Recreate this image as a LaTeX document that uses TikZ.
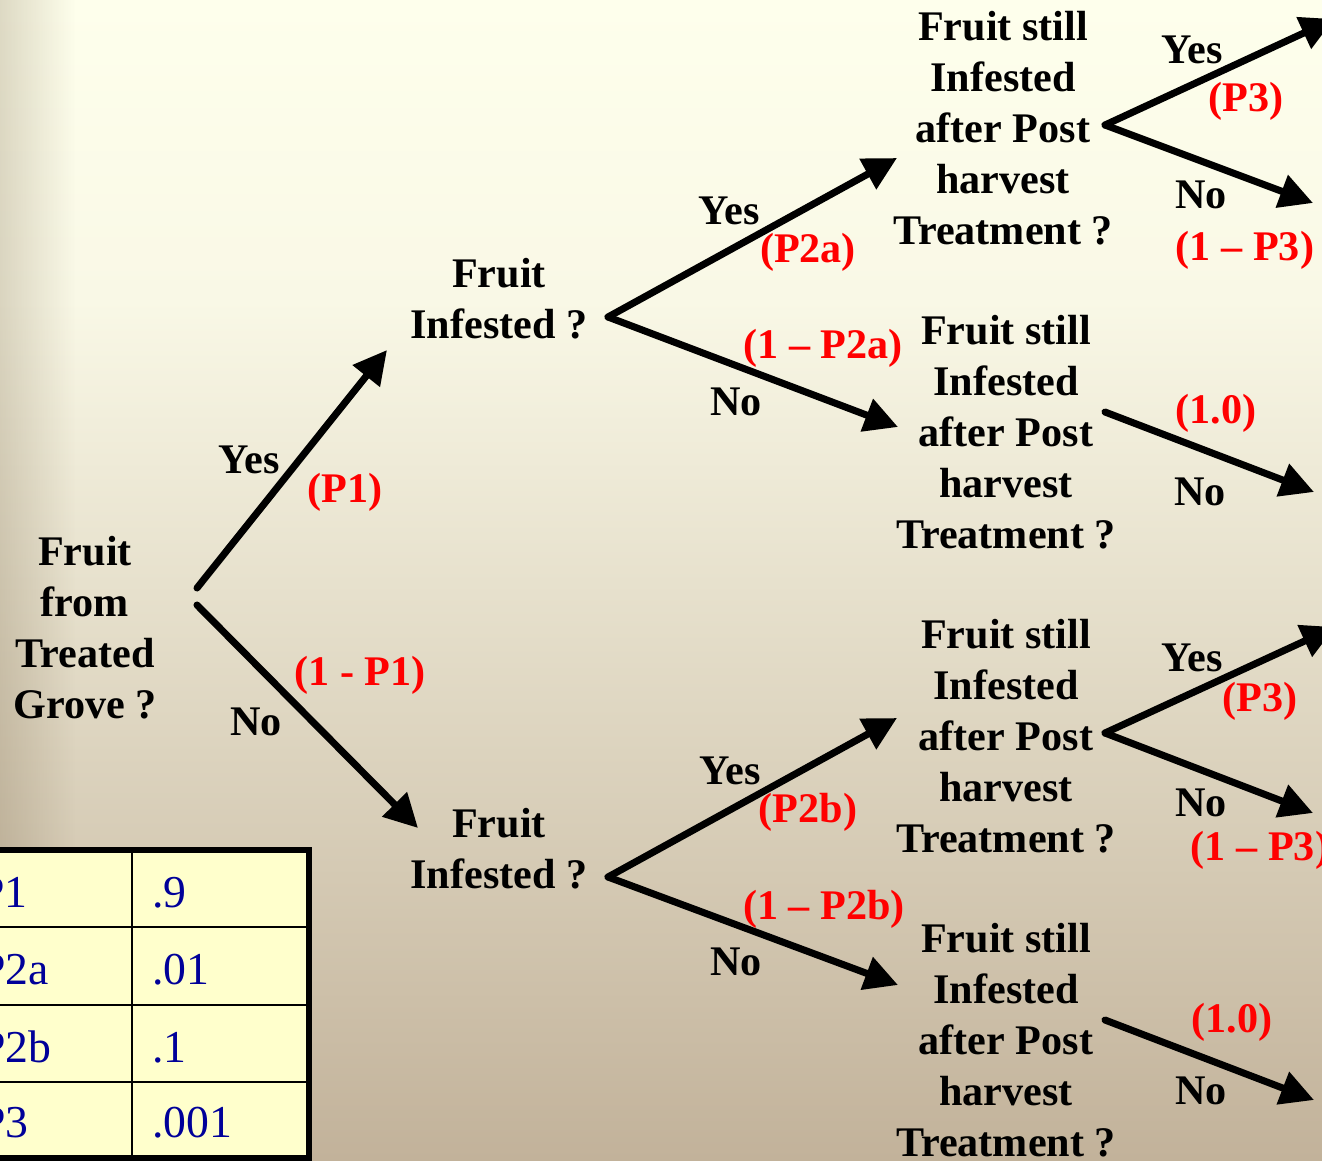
\documentclass[tikz,border=0pt]{standalone}
\usepackage{fontspec}
\setmainfont{Liberation Serif}
\usepackage{tikz}
\usetikzlibrary{arrows.meta,fadings}

\definecolor{bgtop}{HTML}{FEFFEC}
\definecolor{bgmid}{HTML}{F9F8E6}
\definecolor{bgbot}{HTML}{C2B29A}
\definecolor{edgeshade}{HTML}{786446}
\definecolor{cellfill}{HTML}{FFFFCC}
\definecolor{cellblue}{HTML}{000099}
\tikzfading[name=fade right, left color=transparent!0, right color=transparent!100]

\begin{document}
\begin{tikzpicture}[x=0.02cm,y=-0.02cm]
	\tikzstyle{question}=[align=center,inner sep=0pt,font=\fontsize{24}{29}\selectfont\bfseries]
	\tikzstyle{answer}=[inner sep=0pt,font=\fontsize{24}{29}\selectfont\bfseries]
	\tikzstyle{prob}=[answer,text=red]
	\tikzstyle{branch}=[line width=4pt,line cap=round,-{Triangle[length=19pt,width=19pt]}]
	\tikzstyle{cell}=[anchor=base west,inner sep=0pt,text=cellblue,font=\fontsize{26}{30}\selectfont]
	\useasboundingbox (0,0) rectangle (1322,1160);
	\clip (0,0) rectangle (1322,1160);
	% background
	\shade[top color=bgtop,bottom color=bgmid] (0,0) rectangle (1322,301);
	\shade[top color=bgmid,bottom color=bgbot] (0,300) rectangle (1322,1160);
	\fill[edgeshade,opacity=0.24,path fading=fade right] (0,0) rectangle (75,1160);
	% decision nodes
	\node[question] (1) at (85,628) {Fruit\\from\\Treated\\Grove ?};
	\node[question] (2) at (499,299) {Fruit\\Infested ?};
	\node[question] (3) at (499,849) {Fruit\\Infested ?};
	\node[question] (4) at (1003,128) {Fruit still\\Infested\\after Post\\harvest\\Treatment ?};
	\node[question] (5) at (1006,432) {Fruit still\\Infested\\after Post\\harvest\\Treatment ?};
	\node[question] (6) at (1006,736) {Fruit still\\Infested\\after Post\\harvest\\Treatment ?};
	\node[question] (7) at (1006,1040) {Fruit still\\Infested\\after Post\\harvest\\Treatment ?};
	% branch points and arrow ends
	\coordinate (1y) at (197,588);
	\coordinate (1n) at (197,605);
	\coordinate (2v) at (608,317);
	\coordinate (3v) at (608,877);
	\coordinate (4v) at (1105,125);
	\coordinate (5v) at (1105,412);
	\coordinate (6v) at (1105,733);
	\coordinate (7v) at (1105,1020);
	\coordinate (e1) at (387,350);
	\coordinate (e2) at (418,828);
	\coordinate (e3) at (897,158);
	\coordinate (e4) at (898,427);
	\coordinate (e5) at (897,718);
	\coordinate (e6) at (898,985);
	\coordinate (e7) at (1334,19);
	\coordinate (e8) at (1313,203);
	\coordinate (e9) at (1314,492);
	\coordinate (e10) at (1335,627);
	\coordinate (e11) at (1313,813);
	\coordinate (e12) at (1314,1100);
	\draw[branch] (1y) -- (e1);
	\draw[branch] (1n) -- (e2);
	\draw[branch] (2v) -- (e3);
	\draw[branch] (2v) -- (e4);
	\draw[branch] (3v) -- (e5);
	\draw[branch] (3v) -- (e6);
	\draw[branch] (4v) -- (e7);
	\draw[branch] (4v) -- (e8);
	\draw[branch] (5v) -- (e9);
	\draw[branch] (6v) -- (e10);
	\draw[branch] (6v) -- (e11);
	\draw[branch] (7v) -- (e12);
	% branch labels
	\node[answer] (y1) at (249,460) {Yes};
	\node[prob] (p1) at (345,492) {(P1)};
	\node[prob] (q1) at (360,675) {(1 - P1)};
	\node[answer] (n1) at (256,722) {No};
	\node[answer] (y2) at (729,211) {Yes};
	\node[prob] (p2) at (808,252) {(P2a)};
	\node[prob] (q2) at (823,348) {(1 -- P2a)};
	\node[answer] (n2) at (736,402) {No};
	\node[answer] (y3) at (730,771) {Yes};
	\node[prob] (p3) at (808,812) {(P2b)};
	\node[prob] (q3) at (824,909) {(1 -- P2b)};
	\node[answer] (n3) at (736,962) {No};
	\node[answer] (y4) at (1192,50) {Yes};
	\node[prob] (p4) at (1246,101) {(P3)};
	\node[answer] (n4) at (1201,195) {No};
	\node[prob] (q4) at (1245,250) {(1 -- P3)};
	\node[prob] (p5) at (1216,413) {(1.0)};
	\node[answer] (n5) at (1200,492) {No};
	\node[answer] (y6) at (1192,658) {Yes};
	\node[prob] (p6) at (1260,701) {(P3)};
	\node[answer] (n6) at (1201,803) {No};
	\node[prob] (q6) at (1260,850) {(1 -- P3)};
	\node[prob] (p7) at (1232,1022) {(1.0)};
	\node[answer] (n7) at (1201,1091) {No};
	% table of values
	\fill[cellfill] (-45,850) rectangle (309,1158);
	\draw[line width=1.1pt] (132,850) -- (132,1158);
	\draw[line width=1.1pt] (-45,927) -- (309,927);
	\draw[line width=1.1pt] (-45,1005) -- (309,1005);
	\draw[line width=1.1pt] (-45,1082) -- (309,1082);
	\draw[line width=3pt] (-45,850) rectangle (309,1158);
	\node[cell] (k1) at (-21,907) {P1};
	\node[cell] (k2) at (-20,984) {P2a};
	\node[cell] (k3) at (-20,1062) {P2b};
	\node[cell] (k4) at (-20,1137) {P3};
	\node[cell] (v1) at (152,907) {.9};
	\node[cell] (v2) at (152,984) {.01};
	\node[cell] (v3) at (152,1062) {.1};
	\node[cell] (v4) at (152,1137) {.001};
\end{tikzpicture}
\end{document}
